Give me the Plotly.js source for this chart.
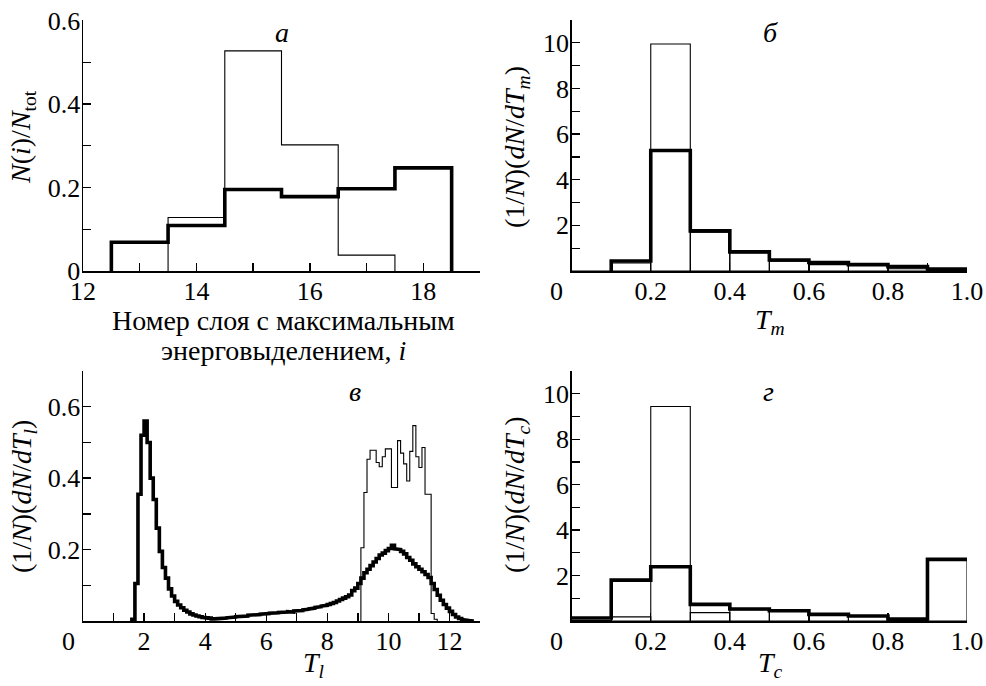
<!DOCTYPE html>
<html>
<head>
<meta charset="utf-8">
<script src="https://cdn.plot.ly/plotly-3.0.1.min.js"></script>
<style>
html,body{margin:0;padding:0;background:#fff;}
#fig{width:986px;height:686px;}
.main-svg text {font-family: "Liberation Serif", "Times New Roman", Times, "DejaVu Serif", serif !important;}
</style>
</head>
<body>
<div id="fig"></div>
<script>
// ---------- Panel а: layer number with maximal energy deposition ----------
const layerBinWidth = 1;
const layerThinStarts = [13.5, 14.5, 15.5, 16.5];
const layerThinVals   = [0.128, 0.527, 0.302, 0.038];
const layerThickStarts = [12.5, 13.5, 14.5, 15.5, 16.5, 17.5];
const layerThickVals   = [0.069, 0.109, 0.195, 0.178, 0.197, 0.247];

// ---------- Panel б: T_m ----------
const tBinWidth = 0.1;
const tmStarts    = [0.0, 0.1, 0.2, 0.3, 0.4, 0.5, 0.6, 0.7, 0.8, 0.9];
const tmThinVals  = [0.0, 0.35, 9.95, 1.7, 0.8, 0.43, 0.28, 0.25, 0.1, 0.02];
const tmThickStarts = [0.1, 0.2, 0.3, 0.4, 0.5, 0.6, 0.7, 0.8, 0.9];
const tmThickVals   = [0.44, 5.28, 1.76, 0.84, 0.48, 0.37, 0.28, 0.19, 0.09];

// ---------- Panel в: T_l ----------
const tlBinWidth = 0.1;
const tlThickFirst = 1.6;
const tlThickVals = [
  0.005, 0.105, 0.355, 0.52, 0.56, 0.50, 0.40, 0.34, 0.26, 0.195,   // 1.6 - 2.5
  0.15, 0.12, 0.09, 0.07, 0.055, 0.045, 0.037, 0.030, 0.025, 0.020, // 2.6 - 3.5
  0.017, 0.014, 0.012, 0.010, 0.009, 0.008, 0.006, 0.006, 0.007, 0.007, // 3.6 - 4.5
  0.008, 0.009, 0.010, 0.011, 0.012, 0.013, 0.013, 0.014, 0.016, 0.017, // 4.6 - 5.5
  0.016, 0.018, 0.019, 0.020, 0.021, 0.022, 0.021, 0.023, 0.024, 0.023, // 5.6 - 6.5
  0.025, 0.026, 0.025, 0.028, 0.030, 0.029, 0.031, 0.033, 0.034, 0.036, // 6.6 - 7.5
  0.038, 0.040, 0.042, 0.044, 0.046, 0.049, 0.052, 0.056, 0.060, 0.064, // 7.6 - 8.5
  0.068, 0.073, 0.085, 0.092, 0.105, 0.120, 0.135, 0.145, 0.155, 0.165, // 8.6 - 9.5
  0.175, 0.185, 0.190, 0.197, 0.203, 0.212, 0.202, 0.200, 0.195, 0.188, // 9.6 - 10.5
  0.178, 0.170, 0.160, 0.152, 0.145, 0.138, 0.130, 0.122, 0.105, 0.088, // 10.6 - 11.5
  0.072, 0.058, 0.046, 0.036, 0.027, 0.018, 0.011, 0.007, 0.004, 0.002, // 11.6 - 12.5
  0.001, 0.0                                                            // 12.6 - 12.7
];
const tlThinFirst = 9.1;
const tlThinVals = [
  0.205, 0.36, 0.453, 0.478, 0.478, 0.444, 0.432, 0.46, 0.482, 0.482, // 9.1 - 10.0
  0.374, 0.374, 0.505, 0.47, 0.44, 0.392, 0.475, 0.547, 0.46, 0.43,   // 10.1 - 11.0
  0.486, 0.355, 0.355, 0.021, 0.005                                   // 11.1 - 11.5
];

// ---------- Panel г: T_c ----------
const tcStarts   = [0.0, 0.1, 0.2, 0.3, 0.4, 0.5, 0.6, 0.7, 0.8, 0.9];
const tcThinVals = [0.02, 0.18, 9.44, 0.37, 0.5, 0.45, 0.3, 0.22, 0.05, 2.7];
const tcThickVals = [0.13, 1.8, 2.39, 0.73, 0.53, 0.45, 0.29, 0.22, 0.09, 2.71];

// ---------- axis tick labels ----------
const layerTickVals = [12, 14, 16, 18];
const layerYTickVals = [0, 0.2, 0.4, 0.6];
const layerYTickText = ['0', '0.2', '0.4', '0.6'];
const fracTickVals = [0.2, 0.4, 0.6, 0.8, 1.0];
const fracTickText = ['0.2', '0.4', '0.6', '0.8', '1.0'];
const densYTickVals = [2, 4, 6, 8, 10];
const tlTickVals = [2, 4, 6, 8, 10, 12];
const tlYTickVals = [0.2, 0.4, 0.6];
const tlYTickText = ['0.2', '0.4', '0.6'];

(function () {
  function stepXY(starts, w, vals, closeL, closeR) {
    const xs = [], ys = [];
    if (closeL) { xs.push(starts[0]); ys.push(0); }
    for (let i = 0; i < vals.length; i++) {
      xs.push(starts[i], starts[i] + w);
      ys.push(vals[i], vals[i]);
    }
    if (closeR) { xs.push(starts[vals.length - 1] + w); ys.push(0); }
    return {x: xs, y: ys};
  }
  function startsFrom(first, w, n) {
    const s = [];
    for (let i = 0; i < n; i++) s.push(+(first + i * w).toFixed(6));
    return s;
  }

  const THICK = 3.6, THIN = 1.1;
  const traces = [];
  function addLine(d, xa, ya, width) {
    traces.push({type: 'scatter', mode: 'lines', x: d.x, y: d.y, xaxis: xa, yaxis: ya,
      line: {color: 'black', width: width, shape: 'linear'}, hoverinfo: 'skip', cliponaxis: false});
  }
  function addBars(starts, w, vals, xa, ya) {
    traces.push({type: 'bar', x: starts.map(s => s + w / 2), y: vals, width: w, xaxis: xa, yaxis: ya,
      marker: {color: 'rgba(0,0,0,0)', line: {color: 'black', width: THIN}}, hoverinfo: 'skip'});
  }

  addLine(stepXY(layerThinStarts, layerBinWidth, layerThinVals, true, true), 'x', 'y', THIN);
  addLine(stepXY(layerThickStarts, layerBinWidth, layerThickVals, true, true), 'x', 'y', THICK);
  addBars(tmStarts, tBinWidth, tmThinVals, 'x2', 'y2');
  addLine(stepXY(tmThickStarts, tBinWidth, tmThickVals, true, false), 'x2', 'y2', THICK);
  addLine(stepXY(startsFrom(tlThinFirst, tlBinWidth, tlThinVals.length), tlBinWidth, tlThinVals, true, true), 'x3', 'y3', THIN);
  addLine(stepXY(startsFrom(tlThickFirst, tlBinWidth, tlThickVals.length), tlBinWidth, tlThickVals, true, false), 'x3', 'y3', THICK);
  addBars(tcStarts, tBinWidth, tcThinVals, 'x4', 'y4');
  addLine(stepXY(tcStarts, tBinWidth, tcThickVals, false, false), 'x4', 'y4', THICK);

  const FAM = 'Liberation Serif, Times New Roman, Times, DejaVu Serif, serif';
  function tf() { return {family: FAM, size: 26}; }
  function ax(extra) {
    return Object.assign({
      showline: true, linecolor: 'black', linewidth: 1.5, ticks: 'inside', ticklen: 8,
      tickwidth: 1.3, tickcolor: 'black', showgrid: false, zeroline: false, mirror: false,
      tickfont: tf(), fixedrange: true, ticklabelstandoff: -4
    }, extra);
  }
  function minor(dt) { return {tickmode: 'linear', dtick: dt, ticks: 'inside', ticklen: 8, tickwidth: 1.3, tickcolor: 'black', showgrid: false}; }

  const W = 986, H = 686;
  const fx = v => v / W, fy = v => 1 - v / H;
  const dxL = [fx(83), fx(480)], dxR = [fx(571.7), fx(967)];
  const dyT = [fy(271), fy(20)], dyB = [fy(621), fy(371)];

  function ann(text, x, y, size, extra) {
    return Object.assign({text: text, xref: 'paper', yref: 'paper', x: fx(x), y: fy(y),
      xanchor: 'center', yanchor: 'middle', showarrow: false,
      font: {family: FAM, size: size}}, extra || {});
  }
  function zeroAnn(xa, ya) {
    return {text: '0', xref: xa, yref: ya, x: 0, y: 0, xanchor: 'center', yanchor: 'top',
      xshift: -15, yshift: -4, showarrow: false, font: tf()};
  }

  const layout = {
    width: W, height: H, margin: {l: 0, r: 0, t: 0, b: 0},
    font: {family: FAM, color: '#000'},
    paper_bgcolor: 'white', plot_bgcolor: 'white', showlegend: false, bargap: 0,
    xaxis: ax({domain: dxL, anchor: 'y', range: [12, 19], tickmode: 'array', tickvals: layerTickVals, minor: minor(1)}),
    yaxis: ax({domain: dyT, anchor: 'x', range: [0, 0.601], tickmode: 'array', tickvals: layerYTickVals, ticktext: layerYTickText, minor: minor(0.1)}),
    xaxis2: ax({domain: dxR, anchor: 'y2', range: [0, 1.0], tickmode: 'array', tickvals: fracTickVals, ticktext: fracTickText, minor: minor(0.1)}),
    yaxis2: ax({domain: dyT, anchor: 'x2', range: [0, 11], tickmode: 'array', tickvals: densYTickVals, minor: minor(1)}),
    xaxis3: ax({domain: dxL, anchor: 'y3', range: [0, 13], tickmode: 'array', tickvals: tlTickVals, minor: minor(1)}),
    yaxis3: ax({domain: dyB, anchor: 'x3', range: [0, 0.7], tickmode: 'array', tickvals: tlYTickVals, ticktext: tlYTickText, minor: minor(0.1)}),
    xaxis4: ax({domain: dxR, anchor: 'y4', range: [0, 1.0], tickmode: 'array', tickvals: fracTickVals, ticktext: fracTickText, minor: minor(0.1)}),
    yaxis4: ax({domain: dyB, anchor: 'x4', range: [0, 11], tickmode: 'array', tickvals: densYTickVals, minor: minor(1)}),
    annotations: [
      zeroAnn('x2', 'y2'), zeroAnn('x3', 'y3'), zeroAnn('x4', 'y4'),
      ann('<i>а</i>', 282, 33, 28),
      ann('<i>б</i>', 770, 33, 28),
      ann('<i>в</i>', 355, 391, 28),
      ann('<i>г</i>', 768, 391, 28),
      ann('Номер слоя с максимальным', 283, 320, 28),
      ann('энерговыделением, <i>i</i>', 283, 350, 28),
      ann('<i>T<sub>m</sub></i>', 770, 321, 28),
      ann('<i>T<sub>l</sub></i>', 314, 664, 28),
      ann('<i>T<sub>c</sub></i>', 770, 664, 28),
      ann('<i>N</i>(<i>i</i>)/<i>N</i><sub>tot</sub>', 23, 137, 28, {textangle: -90}),
      ann('(1/<i>N</i>)(<i>dN</i>/<i>dT<sub>m</sub></i>)', 516, 147, 28, {textangle: -90}),
      ann('(1/<i>N</i>)(<i>dN</i>/<i>dT<sub>l</sub></i>)', 23, 497, 28, {textangle: -90}),
      ann('(1/<i>N</i>)(<i>dN</i>/<i>dT<sub>c</sub></i>)', 516, 495, 28, {textangle: -90})
    ]
  };

  Plotly.newPlot('fig', traces, layout, {staticPlot: true, displayModeBar: false});
})();
</script>
</body>
</html>
